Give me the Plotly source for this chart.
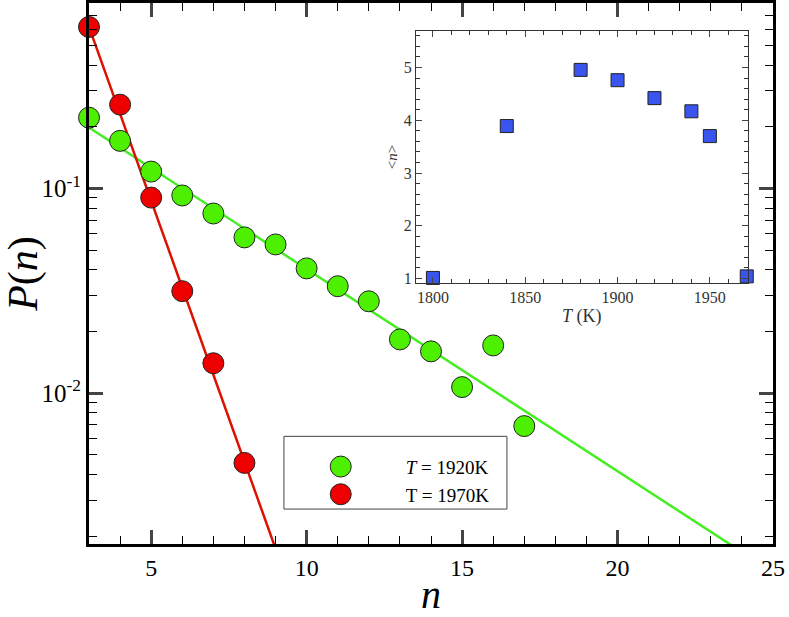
import numpy as np
import plotly.graph_objects as go

# ---- data ----
n_1920 = [3, 4, 5, 6, 7, 8, 9, 10, 11, 12, 13, 14, 15, 16, 17]
P_1920 = [0.222, 0.171, 0.121, 0.0925, 0.0755, 0.0577, 0.0533, 0.0407,
          0.0333, 0.0281, 0.0183, 0.0160, 0.0107, 0.0171, 0.0069]
n_1970 = [3, 4, 5, 6, 7, 8]
P_1970 = [0.616, 0.257, 0.0903, 0.0315, 0.0140, 0.00456]

# exponential fits: log10 P = a + b*(n-3)
fit_1920 = (-0.702, -0.0988)
fit_1970 = (-0.21, -0.425)

T_inset = [1800, 1840, 1880, 1900, 1920, 1940, 1950, 1970]
n_mean = [1.01, 3.89, 4.955, 4.76, 4.42, 4.17, 3.70, 1.04]

x_ticks = [5, 10, 15, 20, 25]
y_ticks = [0.1, 0.01]
y_ticktext = ["10<sup>-1</sup>", "10<sup>-2</sup>"]

GREEN = "#4cf000"
RED = "#ee0000"
SERIF = "Liberation Serif"

nn = np.linspace(3, 25, 200)

fig = go.Figure()

fig.add_trace(go.Scatter(x=nn, y=10 ** (fit_1920[0] + fit_1920[1] * (nn - 3)),
                         mode="lines", line=dict(color="#44ee22", width=2.5),
                         showlegend=False, hoverinfo="skip"))
fig.add_trace(go.Scatter(x=nn, y=10 ** (fit_1970[0] + fit_1970[1] * (nn - 3)),
                         mode="lines", line=dict(color="#dd1100", width=2.5),
                         showlegend=False, hoverinfo="skip"))
fig.add_trace(go.Scatter(x=n_1920, y=P_1920, mode="markers",
                         marker=dict(size=21, color=GREEN, line=dict(color="#222", width=1)),
                         name="<i>T</i> = 1920K", cliponaxis=False))
fig.add_trace(go.Scatter(x=n_1970, y=P_1970, mode="markers",
                         marker=dict(size=21, color=RED, line=dict(color="#222", width=1)),
                         name="T = 1970K", cliponaxis=False))

fig.add_trace(go.Scatter(x=T_inset, y=n_mean, mode="markers", xaxis="x2", yaxis="y2",
                         marker=dict(symbol="square", size=13, color="#3a55ee",
                                     line=dict(color="#222", width=1)),
                         showlegend=False, cliponaxis=False))

def f(size, color="black"):
    return dict(family=SERIF, size=size, color=color)

fig.update_layout(
    width=789, height=617,
    margin=dict(l=89, r=16, t=3, b=73, autoexpand=False),
    paper_bgcolor="white", plot_bgcolor="white",
    font=f(16),
    showlegend=True,
    legend=dict(x=0.273, y=0.178, xanchor="left", yanchor="top",
                bgcolor="rgba(0,0,0,0)", borderwidth=0,
                font=f(19), itemwidth=120, tracegroupgap=0),
    xaxis=dict(range=[3, 25], tickvals=x_ticks, ticks="inside", ticklen=14, tickwidth=3,
               showline=True, linewidth=3, linecolor="black", mirror="allticks",
               showgrid=False, zeroline=False, tickfont=f(24), automargin=False,
               minor=dict(dtick=1, ticks="inside", ticklen=8, tickwidth=1, tickcolor="black", showgrid=False),
               title=dict(text="<i>n</i>", font=f(40), standoff=4)),
    yaxis=dict(type="log", range=[np.log10(0.00183), np.log10(0.807)],
               tickvals=y_ticks, ticktext=y_ticktext, ticks="inside", ticklen=14, tickwidth=3,
               showline=True, linewidth=3, linecolor="black", mirror="allticks",
               showgrid=False, zeroline=False, tickfont=f(25), automargin=False,
               minor=dict(tickvals=[0.002, 0.003, 0.004, 0.005, 0.006, 0.007, 0.008, 0.009,
                                    0.02, 0.03, 0.04, 0.05, 0.06, 0.07, 0.08, 0.09,
                                    0.2, 0.3, 0.4, 0.5, 0.6, 0.7],
                          ticks="inside", ticklen=8, tickwidth=1, tickcolor="black", showgrid=False),
               title=dict(text="<i>P</i>(<i>n</i>)", font=f(42), standoff=4)),
    xaxis2=dict(domain=[0.478, 0.963], anchor="y2", range=[1790.8, 1970.5],
                tickvals=[1800, 1850, 1900, 1950], ticks="inside", ticklen=6, tickwidth=1,
                showline=True, linewidth=1, linecolor="#333", mirror="allticks",
                showgrid=False, zeroline=False, tickfont=f(16, "#333"), automargin=False,
                minor=dict(dtick=10, ticks="inside", ticklen=4, tickwidth=1, tickcolor="#333"),
                title=dict(text="<i>T</i> (K)", font=f(18, "#333"), standoff=0)),
    yaxis2=dict(domain=[0.483, 0.948], anchor="x2", range=[0.92, 5.69],
                tickvals=[1, 2, 3, 4, 5], ticks="inside", ticklen=6, tickwidth=1,
                showline=True, linewidth=1, linecolor="#333", mirror="allticks",
                showgrid=False, zeroline=False, tickfont=f(16, "#333"), automargin=False,
                minor=dict(dtick=0.2, ticks="inside", ticklen=4, tickwidth=1, tickcolor="#333"),
                title=dict(text="&lt;<i>n</i>&gt;", font=f(15, "#333"), standoff=2)),
    shapes=[
        dict(type="rect", xref="paper", yref="paper", x0=0.478, x1=0.963, y0=0.483, y1=0.948,
             fillcolor="white", line=dict(width=0), layer="below"),
        dict(type="rect", xref="paper", yref="paper", x0=0.285, x1=0.611, y0=0.0646, y1=0.199,
             fillcolor="white", line=dict(color="#444", width=1), layer="below"),
    ],
)

post = """
document.body.style.margin='0';document.body.style.padding='0';
var r = 10.5;
document.querySelectorAll('.legend .legendpoints path.scatterpts').forEach(function(p){
  p.setAttribute('d', 'M'+r+',0A'+r+','+r+' 0 1,1 0,-'+r+'A'+r+','+r+' 0 0,1 '+r+',0Z');
});
"""

fig.write_html("out.html", post_script=post, config={"displayModeBar": False})
